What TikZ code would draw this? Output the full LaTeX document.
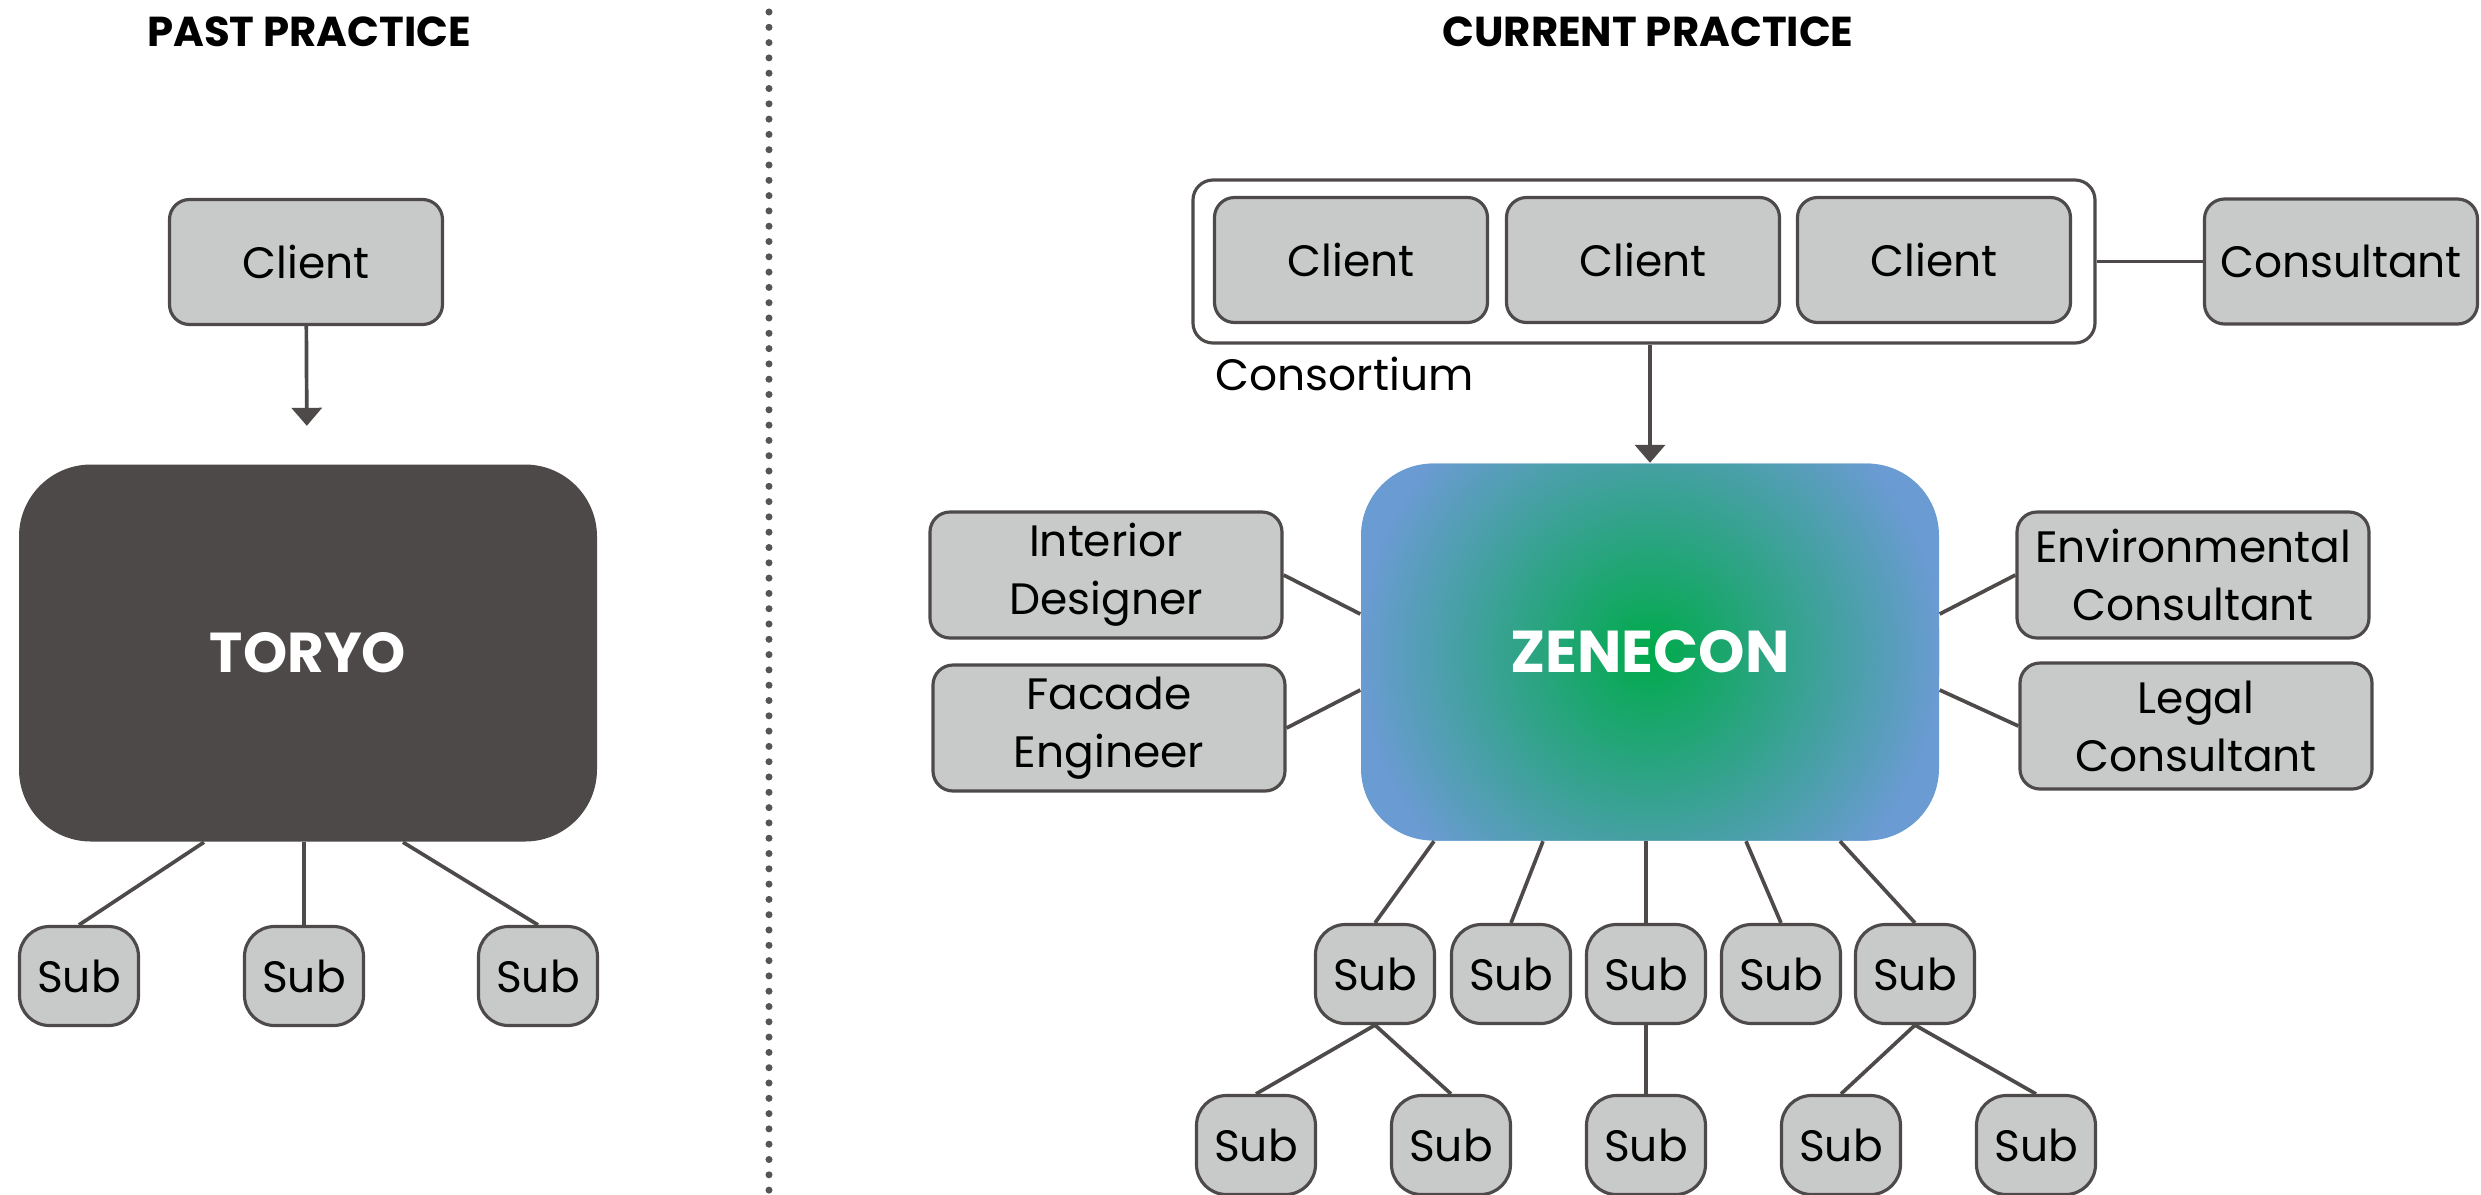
\documentclass[tikz,border=0pt]{standalone}
\usepackage{fontspec}
\setmainfont{Poppins}
\usetikzlibrary{arrows.meta}
\definecolor{boxgray}{RGB}{200,202,201}
\definecolor{edgegray}{RGB}{77,74,73}
\definecolor{torgray}{RGB}{77,73,72}
\definecolor{zgreen}{RGB}{0,170,75}
\definecolor{zblue}{RGB}{106,155,210}
\definecolor{dotgray}{RGB}{85,85,85}
\begin{document}
\begin{tikzpicture}[
  box/.style={draw=edgegray, line width=0.9pt, fill=boxgray, rounded corners=0.2cm,
    minimum width=2.73cm, minimum height=1.25cm, inner sep=0pt, align=center,
    font=\fontsize{12.5}{16.5}\selectfont},
  subbox/.style={box, rounded corners=0.3cm, minimum width=1.19cm, minimum height=0.99cm},
  sidebox/.style={box, minimum width=3.52cm, minimum height=1.26cm},
  hub/.style={rounded corners=0.72cm, minimum width=5.78cm, minimum height=3.77cm,
    inner sep=0pt, text=white, font=\fontsize{16}{19}\selectfont\bfseries},
  link/.style={draw=edgegray, line width=1.05pt},
  feed/.style={link, -{Triangle[width=0.3cm,length=0.18cm]}},
  heading/.style={font=\fontsize{11.9}{14}\selectfont\bfseries}
]
\useasboundingbox (0,0) rectangle (24.81,-11.94);
% titles
\node[heading] (tp) at (3.09,-0.32) {PAST PRACTICE};
\node[heading] (tc) at (16.48,-0.32) {CURRENT PRACTICE};
% divider
\draw[dotgray, line width=2pt, line cap=round, dash pattern=on 0pt off 0.153cm] (7.69,-0.12) -- (7.69,-11.94);

% past
\node[box] (cl0) at (3.06,-2.62) {Client};
\node[hub, fill=torgray] (tor) at (3.08,-6.53) {TORYO};
\node[subbox] (s1) at (0.79,-9.76) {Sub};
\node[subbox] (s2) at (3.04,-9.76) {Sub};
\node[subbox] (s3) at (5.38,-9.76) {Sub};
% lines
\draw[feed, shorten >=0.38cm] (cl0) -- (tor);
\draw[link] ([xshift=-1.04cm]tor.south) -- (s1.north);
\draw[link] (s2.north |- tor.south) -- (s2.north);
\draw[link] ([xshift=0.95cm]tor.south) -- (s3.north);

% current
\node[box, fill=white, minimum width=9.02cm, minimum height=1.63cm] (cs) at (16.44,-2.615) {};
\node[box] (cl1) at (13.51,-2.60) {Client};
\node[box] (cl2) at (16.43,-2.60) {Client};
\node[box] (cl3) at (19.34,-2.60) {Client};
\node[box] (ct) at (23.41,-2.615) {Consultant};
\node[anchor=west, inner sep=0pt, font=\fontsize{12.5}{16.5}\selectfont] (csl) at (12.15,-3.74) {Consortium};
\node[hub, fill=zblue, font=\fontsize{16.8}{19}\selectfont\bfseries, path picture={\shade[inner color=zgreen, outer color=zblue] (path picture bounding box.center) circle (2.9cm);}] (zen) at (16.50,-6.52) {ZENECON};
% left right
\node[sidebox] (id) at (11.06,-5.75) {Interior\\Designer};
\node[sidebox] (fe) at (11.09,-7.28) {Facade\\Engineer};
\node[sidebox] (ec) at (21.93,-5.75) {Environmental\\Consultant};
\node[sidebox] (lc) at (21.96,-7.26) {Legal\\Consultant};
% subs
\node[subbox] (m1) at (13.75,-9.74) {Sub};
\node[subbox] (m2) at (15.11,-9.74) {Sub};
\node[subbox] (m3) at (16.46,-9.74) {Sub};
\node[subbox] (m4) at (17.81,-9.74) {Sub};
\node[subbox] (m5) at (19.15,-9.74) {Sub};
\node[subbox] (b1) at (12.56,-11.45) {Sub};
\node[subbox] (b2) at (14.51,-11.45) {Sub};
\node[subbox] (b3) at (16.46,-11.45) {Sub};
\node[subbox] (b4) at (18.41,-11.45) {Sub};
\node[subbox] (b5) at (20.36,-11.45) {Sub};
% lines
\draw[link] (cs.east) -- (ct.west);
\draw[feed] (zen.north |- cs.south) -- (zen.north);
\draw[link] (id.east) -- ([yshift=0.38cm]zen.west);
\draw[link] (fe.east) -- ([yshift=-0.38cm]zen.west);
\draw[link] (ec.west) -- ([yshift=0.38cm]zen.east);
\draw[link] (lc.west) -- ([yshift=-0.38cm]zen.east);
\draw[link] ([xshift=-2.16cm]zen.south) -- (m1.north);
\draw[link] ([xshift=-1.07cm]zen.south) -- (m2.north);
\draw[link] (m3.north |- zen.south) -- (m3.north);
\draw[link] ([xshift=0.96cm]zen.south) -- (m4.north);
\draw[link] ([xshift=1.90cm]zen.south) -- (m5.north);
\draw[link] (m1.south) -- (b1.north);
\draw[link] (m1.south) -- (b2.north);
\draw[link] (m3.south) -- (b3.north);
\draw[link] (m5.south) -- (b4.north);
\draw[link] (m5.south) -- (b5.north);
\end{tikzpicture}
\end{document}
